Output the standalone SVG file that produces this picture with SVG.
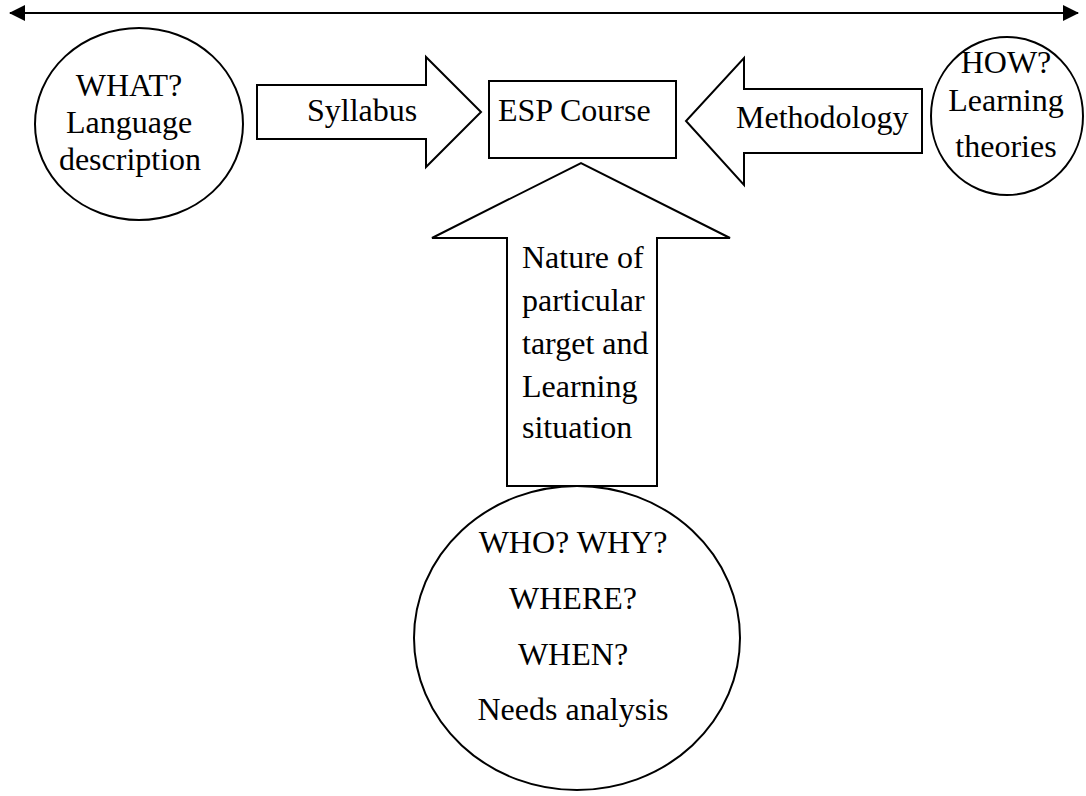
<svg xmlns="http://www.w3.org/2000/svg" width="1086" height="796" viewBox="0 0 1086 796">
  <style>
    .shape { fill: #fff; stroke: #000; stroke-width: 2; }
    .lbl { font-family: "Liberation Serif", "Times New Roman", serif; font-size: 32px; fill: #000; }
    .mid { text-anchor: middle; }
  </style>
  <defs>
    <marker id="head" viewBox="0 0 16 16" refX="15" refY="8" markerWidth="16" markerHeight="16" markerUnits="userSpaceOnUse" orient="auto-start-reverse">
      <path d="M0,0 L16,8 L0,16 Z" fill="#000"/>
    </marker>
  </defs>
  <rect width="1086" height="796" fill="#fff"/>

  <!-- connectors: the double-headed scale line and the block arrows -->
  <g id="connectors">
    <line x1="10" y1="13" x2="1078" y2="13" stroke="#000" stroke-width="2" marker-start="url(#head)" marker-end="url(#head)"/>
    <g id="arrow-syllabus">
      <path class="shape" d="M257,85 L426,85 L426,57 L481,112 L426,167 L426,139 L257,139 Z"/>
      <text class="lbl" x="307" y="121">Syllabus</text>
    </g>
    <g id="arrow-methodology">
      <path class="shape" d="M922,89 L744,89 L744,58 L686,121 L744,185 L744,153 L922,153 Z"/>
      <text class="lbl" x="736" y="128">Methodology</text>
    </g>
    <g id="arrow-needs">
      <path class="shape" d="M507,486 L507,238 L432,238 L581,163 L730,238 L657,238 L657,486 Z"/>
      <text class="lbl" x="522" y="268">Nature of</text>
      <text class="lbl" x="522" y="311">particular</text>
      <text class="lbl" x="522" y="354">target and</text>
      <text class="lbl" x="522" y="397">Learning</text>
      <text class="lbl" x="522" y="438">situation</text>
    </g>
  </g>

  <g id="what">
    <ellipse class="shape" cx="139" cy="124" rx="104" ry="96"/>
    <text class="lbl mid" x="129" y="96">WHAT?</text>
    <text class="lbl mid" x="129" y="133">Language</text>
    <text class="lbl mid" x="130" y="170">description</text>
  </g>

  <g id="esp-course">
    <rect class="shape" x="489" y="81" width="187" height="77"/>
    <text class="lbl" x="498" y="121">ESP Course</text>
  </g>

  <g id="how">
    <ellipse class="shape" cx="1007" cy="116" rx="76" ry="79"/>
    <text class="lbl mid" x="1006" y="73">HOW?</text>
    <text class="lbl mid" x="1006" y="111">Learning</text>
    <text class="lbl mid" x="1006" y="157">theories</text>
  </g>

  <g id="needs">
    <ellipse class="shape" cx="577" cy="638" rx="163" ry="152"/>
    <text class="lbl mid" x="573" y="553">WHO? WHY?</text>
    <text class="lbl mid" x="573" y="609">WHERE?</text>
    <text class="lbl mid" x="573" y="665">WHEN?</text>
    <text class="lbl mid" x="573" y="720">Needs analysis</text>
  </g>
</svg>
